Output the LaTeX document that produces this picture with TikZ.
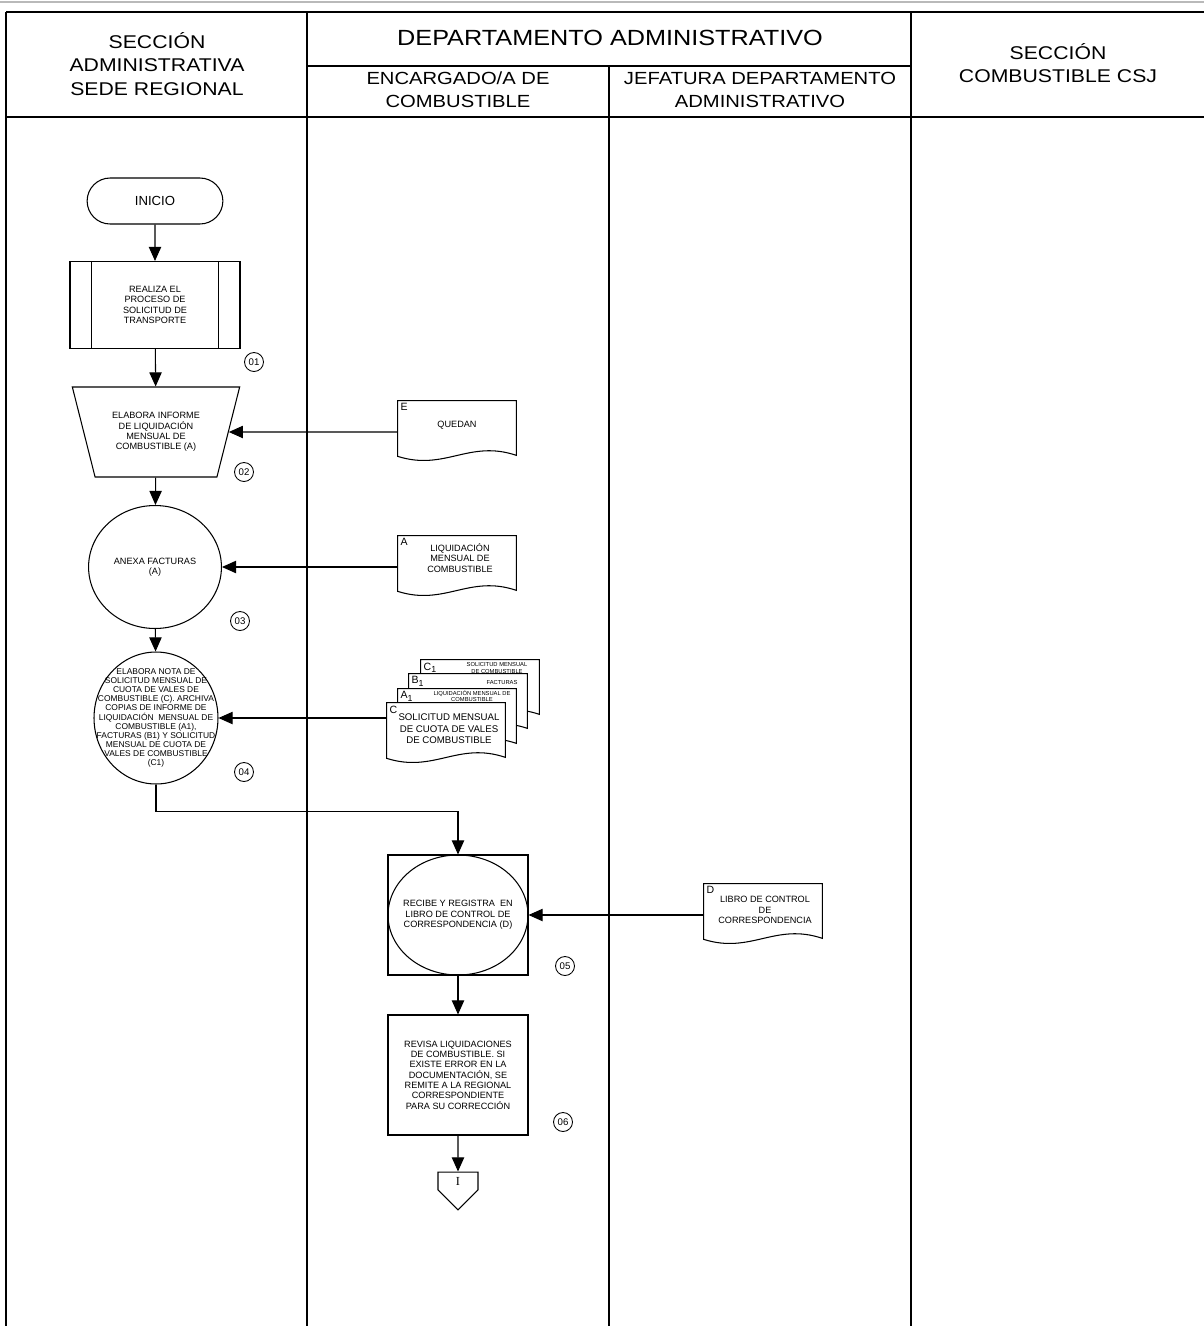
\documentclass[tikz,border=0pt]{standalone}
\usepackage{fontspec}
\setmainfont{Liberation Sans}
\newfontfamily\hdrfont{Liberation Sans}[FakeStretch=1.15]
\newfontfamily\serifI{Liberation Serif}
\usetikzlibrary{arrows.meta,shapes.geometric,shapes.misc,shapes.symbols,calc,positioning}

\tikzset{
  line/.style={line width=0.6pt},
  arr/.style={line width=0.6pt,-{Triangle[length=8pt,width=7pt]}},
  lanehdr/.style={font=\hdrfont\fontsize{10.5}{13.4}\selectfont,align=center},
  depthdr/.style={font=\hdrfont\fontsize{12.5}{14}\selectfont,align=center},
  sublanehdr/.style={font=\hdrfont\fontsize{10}{12.9}\selectfont,align=center},
  small/.style={font=\fontsize{5.2}{5.9}\selectfont,align=center},
  circtext/.style={font=\fontsize{4.8}{5.2}\selectfont,align=center,inner sep=0pt},
  stepnum/.style={circle,draw,line width=0.5pt,minimum size=0.38cm,inner sep=0pt,font=\fontsize{5.5}{6}\selectfont},
  proc/.style={rectangle,draw,line width=0.6pt,small,inner sep=2pt},
  terminal/.style={rounded rectangle,draw,line width=0.6pt,minimum width=2.95cm,minimum height=0.92cm,font=\fontsize{7.5}{8}\selectfont},
  docu/.style={rectangle,minimum width=2.36cm,minimum height=1.24cm,inner sep=0pt},
  docletter/.style={anchor=north west,inner sep=1.5pt,font=\fontsize{6}{6}\selectfont},
  doctext/.style={small,inner sep=0pt},
  tinytext/.style={font=\fontsize{3.3}{3.6}\selectfont,align=center,inner sep=0pt},
}

% document shape with wavy bottom round a named node
\newcommand{\docoutline}[1]{\draw[line,fill=white] (#1.north west) -- (#1.north east)
  -- ($(#1.south east)+(0,-8)$) .. controls ($(#1.south)+(12,-24)$) and ($(#1.south)+(-12,8)$)
  .. ($(#1.south west)+(0,-7)$) -- cycle}

\begin{document}
\begin{tikzpicture}[x=0.02cm,y=-0.02cm]
  \useasboundingbox (0,0) rectangle (1204,1326);
  % lanes
  \draw[gray!55,line width=1.6pt] (0,2) -- (1204,2);
  \draw[line] (6,12) -- (1204,12);
  \draw[line] (6,117) -- (1204,117);
  \draw[line] (307,66) -- (911,66);
  \foreach \x in {6,307,911}
    \draw[line] (\x,12) -- (\x,1326);
  \draw[line] (609,66) -- (609,1326);
  \node[lanehdr] (hdr-sede) at (157,64) {SECCIÓN\\ADMINISTRATIVA\\SEDE REGIONAL};
  \node[depthdr] (hdr-depto) at (610,38) {DEPARTAMENTO ADMINISTRATIVO};
  \node[sublanehdr] (hdr-encargado) at (458,90) {ENCARGADO/A DE\\COMBUSTIBLE};
  \node[sublanehdr] (hdr-jefatura) at (760,90) {JEFATURA DEPARTAMENTO\\ADMINISTRATIVO};
  \node[lanehdr] (hdr-csj) at (1058,63) {SECCIÓN\\COMBUSTIBLE CSJ};

  % sede regional
  \node[terminal] (inicio) at (155,201) {INICIO};
  \node[proc,minimum width=3.4cm,minimum height=1.74cm] (realiza) at (155,305)
    {REALIZA EL\\PROCESO DE\\SOLICITUD DE\\TRANSPORTE};
  \draw[line] ($(realiza.north west)+(22,0)$) -- ($(realiza.south west)+(22,0)$);
  \draw[line] ($(realiza.north east)+(-22,0)$) -- ($(realiza.south east)+(-22,0)$);
  \node[stepnum] (n01) at (254,362) {01};
  \node[trapezium,trapezium left angle=70,trapezium right angle=70,shape border rotate=180,
    trapezium stretches=true,draw,line,small,minimum width=3.36cm,minimum height=1.8cm] (elabora) at (156,432)
    {ELABORA INFORME\\DE LIQUIDACIÓN\\MENSUAL DE\\COMBUSTIBLE (A)};
  \node[stepnum] (n02) at (244,472) {02};
  \node[ellipse,draw,line,small,minimum width=2.64cm,minimum height=2.46cm] (anexa) at (155,567)
    {ANEXA FACTURAS\\(A)};
  \node[stepnum] (n03) at (240,621) {03};
  \node[ellipse,draw,line,minimum width=2.48cm,minimum height=2.64cm] (nota) at (156,718) {};
  \node[circtext] (nota-txt) at (nota.center) {ELABORA NOTA DE\\SOLICITUD MENSUAL DE\\CUOTA DE VALES DE\\
    COMBUSTIBLE (C). ARCHIVA\\COPIAS DE INFORME DE\\LIQUIDACIÓN\ \ MENSUAL DE\\COMBUSTIBLE (A1),\\
    FACTURAS (B1) Y SOLICITUD\\MENSUAL DE CUOTA DE\\VALES DE COMBUSTIBLE\\(C1)};
  \node[stepnum] (n04) at (244,772) {04};

  % documentos
  \node[docu] (quedan) at (457,432) {};
  \docoutline{quedan};
  \node[docletter] (quedan-l) at (quedan.north west) {E};
  \node[doctext] (quedan-t) at ($(quedan.center)+(0,-7)$) {QUEDAN};

  \node[docu] (liqdoc) at (457,567) {};
  \docoutline{liqdoc};
  \node[docletter] (liqdoc-l) at (liqdoc.north west) {A};
  \node[doctext] (liqdoc-t) at ($(liqdoc.center)+(3,-9)$) {LIQUIDACIÓN\\MENSUAL DE\\COMBUSTIBLE};

  \node[docu] (solcomb) at (480,691) {};
  \docoutline{solcomb};
  \node[docletter] (solcomb-l) at (solcomb.north west) {C\textsubscript{1}};
  \node[tinytext] (solcomb-t) at (497,668) {SOLICITUD MENSUAL\\DE COMBUSTIBLE};
  \node[docu] (fact) at (468,705) {};
  \docoutline{fact};
  \node[docletter] (fact-l) at (fact.north west) {B\textsubscript{1}};
  \node[tinytext] (fact-t) at (502,682) {FACTURAS};
  \node[docu] (liqcopia) at (457,720) {};
  \docoutline{liqcopia};
  \node[docletter] (liqcopia-l) at (liqcopia.north west) {A\textsubscript{1}};
  \node[tinytext] (liqcopia-t) at (472,696) {LIQUIDACIÓN MENSUAL DE\\COMBUSTIBLE};
  \node[docu] (solcuota) at (446,734) {};
  \docoutline{solcuota};
  \node[docletter] (solcuota-l) at (solcuota.north west) {C};
  \node[font=\fontsize{5.5}{6.6}\selectfont,align=center,inner sep=0pt] (solcuota-t) at (449,729)
    {SOLICITUD MENSUAL\\DE CUOTA DE VALES\\DE COMBUSTIBLE};

  \node[docu] (libro) at (763,915) {};
  \docoutline{libro};
  \node[docletter] (libro-l) at (libro.north west) {D};
  \node[doctext] (libro-t) at ($(libro.center)+(2,-5)$) {LIBRO DE CONTROL\\DE\\CORRESPONDENCIA};

  % encargado/a de combustible
  \node[proc,minimum width=2.8cm,minimum height=2.4cm] (recibe) at (458,915)
    {RECIBE Y REGISTRA\ \ EN\\LIBRO DE CONTROL DE\\CORRESPONDENCIA (D)};
  \draw[line] (recibe.center) ellipse [x radius=1.4cm,y radius=1.2cm];
  \node[stepnum] (n05) at (565,966) {05};
  \node[proc,minimum width=2.8cm,minimum height=2.4cm] (revisa) at (458,1075)
    {REVISA LIQUIDACIONES\\DE COMBUSTIBLE. SI\\EXISTE ERROR EN LA\\DOCUMENTACIÓN, SE\\
     REMITE A LA REGIONAL\\CORRESPONDIENTE\\PARA SU CORRECCIÓN};
  \node[stepnum] (n06) at (563,1122) {06};
  \node[signal,signal to=south,signal from=nowhere,draw,line,minimum width=0.8cm,minimum height=0.4cm,
    inner sep=0pt,font=\serifI\fontsize{7}{7}\selectfont] (conector) at (458,1181) {I};

  % conectores
  \draw[arr] (inicio) -- (realiza);
  \draw[arr] (realiza) -- (elabora);
  \draw[arr] (quedan.west) -- (elabora.east);
  \draw[arr] (elabora) -- (anexa);
  \draw[arr] (liqdoc.west) -- (anexa.east);
  \draw[arr] (anexa) -- (nota);
  \draw[arr] (solcuota.west |- nota.east) -- (nota.east);
  \draw[arr] (nota.south) -- ++(0,27) -| (recibe.north);
  \draw[arr] (libro.west) -- (recibe.east);
  \draw[arr] (recibe) -- (revisa);
  \draw[arr] (revisa) -- (conector);
\end{tikzpicture}
\end{document}
